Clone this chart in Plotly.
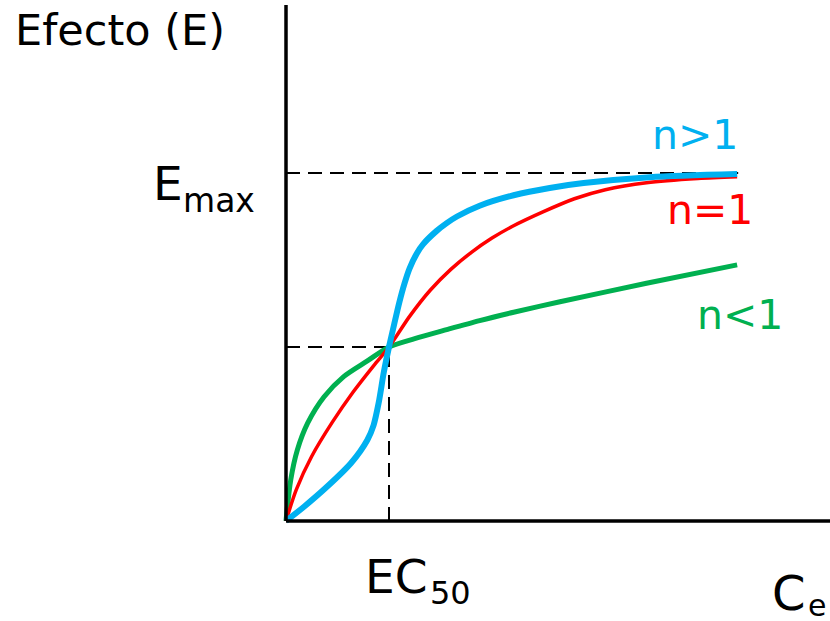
import plotly.graph_objects as go

# Concentration in units of EC50, effect in % of Emax
x_blue = [0, 0.175, 0.40, 0.63, 0.79, 0.85, 0.90, 0.95, 1.0, 1.05, 1.10, 1.15, 1.20, 1.27, 1.33, 1.46, 1.56, 1.66, 1.88, 2.21, 2.56, 2.89, 3.53, 4.38]
y_blue = [0, 4.1, 9.9, 16.6, 23.3, 27.5, 34.0, 42.8, 50.0, 56.5, 62.8, 68.2, 72.6, 76.9, 79.5, 83.3, 85.6, 87.5, 90.6, 93.6, 95.7, 97.1, 98.8, 99.7]

x_red = [0, 0.10, 0.25, 0.45, 0.65, 0.85, 1.0, 1.2, 1.4, 1.6, 1.8, 2.0, 2.2, 2.5, 2.8, 3.1, 3.5, 4.0, 4.38]
y_red = [0, 9.0, 18.6, 28.4, 37.0, 44.6, 50.0, 58.8, 66.3, 72.3, 77.2, 81.3, 84.7, 88.9, 92.6, 95.2, 97.2, 98.4, 98.9]

x_green = [0, 0.046, 0.11, 0.21, 0.37, 0.56, 0.79, 1.0, 1.25, 1.56, 1.88, 2.21, 2.66, 3.5, 4.38]
y_green = [0, 11.8, 20.4, 28.1, 35.7, 41.5, 46.0, 50.0, 52.4, 55.0, 57.6, 60.0, 63.0, 68.3, 73.6]

EC50 = 1.0
EMAX = 100.0
HALF = 50.0
X_END = 4.39

labels = ["n>1", "n=1", "n<1"]

W, H = 830, 621
X0, SX = 286, 103.0   # pixel of x=0, pixels per unit
Y0, SY = 521, 3.48    # pixel of y=0, pixels per unit
xr = [(0 - X0) / SX, (W - X0) / SX]
yr = [(Y0 - H) / SY, (Y0 - 0) / SY]

BLUE = "#00B0F0"
RED = "#FF0000"
GREEN = "#00B050"
FONT = "DejaVu Sans"

fig = go.Figure()
fig.add_trace(go.Scatter(x=x_green, y=y_green, mode="lines", line=dict(color=GREEN, width=5, shape="spline", smoothing=0.8), hoverinfo="skip"))
fig.add_trace(go.Scatter(x=x_red, y=y_red, mode="lines", line=dict(color=RED, width=3.5, shape="spline", smoothing=0.8), hoverinfo="skip"))
fig.add_trace(go.Scatter(x=x_blue, y=y_blue, mode="lines", line=dict(color=BLUE, width=6, shape="spline", smoothing=0.8), hoverinfo="skip"))

dash = "14px,8px"
shapes = [
    dict(type="line", x0=0, x1=X_END, y0=EMAX, y1=EMAX, line=dict(color="black", width=2, dash=dash), layer="below"),
    dict(type="line", x0=0, x1=EC50, y0=HALF, y1=HALF, line=dict(color="black", width=2, dash=dash), layer="below"),
    dict(type="line", x0=EC50, x1=EC50, y0=0, y1=HALF, line=dict(color="black", width=2, dash=dash), layer="below"),
    dict(type="line", x0=0, x1=0, y0=0, y1=(Y0 - 5) / SY, line=dict(color="black", width=3.5)),
    dict(type="line", x0=0, x1=xr[1], y0=0, y1=0, line=dict(color="black", width=3.5)),
]

def px_x(sx):
    return (sx - X0) / SX

def mid_y(baseline, size):
    fy = baseline - 0.36 * size
    return (Y0 - fy) / SY

def text(sx, baseline, s, size, color="black"):
    return dict(x=px_x(sx), y=mid_y(baseline, size), text=s, xanchor="left", yanchor="middle",
                showarrow=False, font=dict(size=size, color=color, family=FONT))

ann = [
    text(13, 45, "Efecto (E)", 43),
    text(151, 200, "E", 47),
    text(181, 212, "max", 33),
    text(363, 593, "EC", 47),
    text(428, 605, "50", 32),
    text(770, 610, "C", 48),
    text(806, 616, "e", 30),
    text(650, 150, labels[0], 41, BLUE),
    text(665, 225, labels[1], 41, RED),
    text(695, 330, labels[2], 41, GREEN),
]

fig.update_layout(
    width=W, height=H,
    margin=dict(l=0, r=0, t=0, b=0),
    paper_bgcolor="white", plot_bgcolor="white",
    showlegend=False,
    xaxis=dict(range=xr, visible=False, fixedrange=True),
    yaxis=dict(range=yr, visible=False, fixedrange=True),
    shapes=shapes,
    annotations=ann,
)
fig.write_html("out.html", config={"displayModeBar": False},
               post_script="document.body.style.margin='0';document.body.style.overflow='hidden';")
